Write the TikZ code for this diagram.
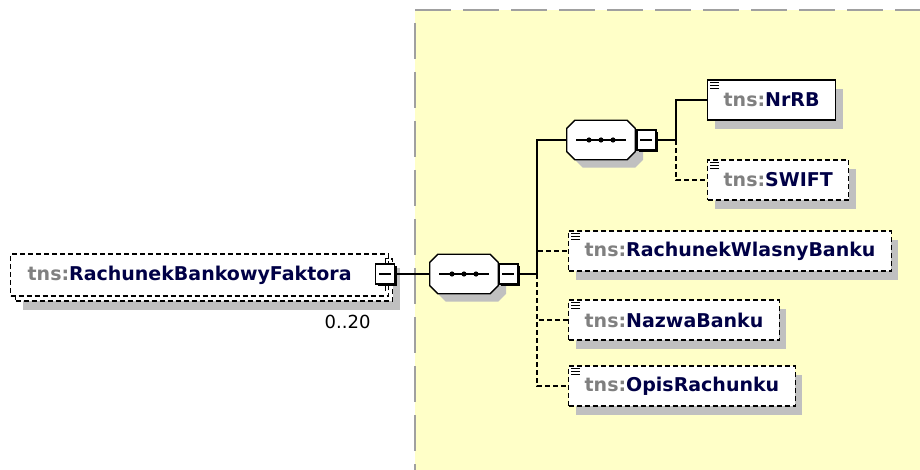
\documentclass[tikz,border=0pt]{standalone}
\usepackage{fontspec}
\setmainfont{DejaVu Sans}
\usepackage{tikz}
\usetikzlibrary{shadows, positioning}
\definecolor{myyellow}{RGB}{255,255,200}
\definecolor{myborder}{RGB}{160,160,160}
\definecolor{myshadow}{RGB}{192,192,192}
\definecolor{mytns}{RGB}{128,128,128}
\definecolor{mynavy}{RGB}{0,0,70}
\newcommand{\xname}[1]{{\color{mytns}tns:}#1}
% octagonal sequence outline (with its shadow) round a node
\newcommand{\seqoct}[1]{%
  \fill[myshadow] ([xshift=16pt,yshift=-8pt]#1.north west) -- ([yshift=-8pt]#1.north east)
    -- ([xshift=8pt,yshift=-16pt]#1.north east) -- ([xshift=8pt]#1.south east)
    -- ([yshift=-8pt]#1.south east) -- ([xshift=16pt,yshift=-8pt]#1.south west)
    -- ([xshift=8pt]#1.south west) -- ([xshift=8pt,yshift=-16pt]#1.north west) -- cycle;
  \filldraw[fill=white, line width=1.3pt] ([xshift=8pt]#1.north west) -- ([xshift=-8pt]#1.north east)
    -- ([yshift=-8pt]#1.north east) -- ([yshift=8pt]#1.south east)
    -- ([xshift=-8pt]#1.south east) -- ([xshift=8pt]#1.south west)
    -- ([yshift=8pt]#1.south west) -- ([yshift=-8pt]#1.north west) -- cycle;
}
\tikzset{
  elembase/.style={rectangle, draw=black, fill=white, line width=1.3pt,
    minimum height=40pt, inner xsep=16pt, inner ysep=0pt, anchor=west,
    font=\fontsize{19}{22}\selectfont\bfseries, text=mynavy},
  elem/.style={elembase,
    drop shadow={shadow xshift=7pt, shadow yshift=-9pt, fill=myshadow, opacity=1}},
  optelem/.style={elem, dash pattern=on 5pt off 3pt},
  seqbox/.style={rectangle, minimum width=68pt, minimum height=39pt, inner sep=0pt},
  minusbox/.style={rectangle, draw=black, fill=white, line width=1.3pt,
    minimum width=19pt, minimum height=20pt, inner sep=0pt,
    drop shadow={shadow xshift=2pt, shadow yshift=-2pt, fill=black, opacity=1}},
  conn/.style={line width=1.3pt, color=black},
  optconn/.style={conn, dash pattern=on 5pt off 3pt}
}

\begin{document}
\begin{tikzpicture}[x=1pt, y=-1pt]
  \useasboundingbox (0,0) rectangle (920,470);

  % Complex type area
  \fill[myyellow] (415,10) rectangle (920,470);
  \draw[myborder, line width=2.5pt, dash pattern=on 36pt off 12pt] (415,10) -- (920,10);
  \draw[myborder, line width=2.5pt, dash pattern=on 36pt off 13pt] (415,23) -- (415,470);

  % Root element (repeated, two stacked boxes)
  \node[optelem, minimum width=377pt, minimum height=42pt] (rootback) at (15,280) {};
  \node[elembase, dash pattern=on 5pt off 3pt, minimum height=42pt, inner xsep=17pt,
    text width=344pt, align=left] (root) at (10,275) {\xname{RachunekBankowyFaktora}};
  \node[minusbox] (rootmin) at (385,274) {};
  \draw[line width=1pt] (rootmin.north) -- ++(0,-5) -- ++(4,0);
  \draw[line width=1pt] (rootmin.south) -- ++(0,6);
  \node[font=\fontsize{18}{20}\selectfont, anchor=east] (occurs) at (374,322) {0..20};

  % Sequences
  \node[seqbox] (seqa) at (464,274) {};
  \seqoct{seqa}
  \node[minusbox, anchor=west] (seqamin) at (seqa.east) {};
  \node[seqbox] (seqb) at (601,140) {};
  \seqoct{seqb}
  \node[minusbox, anchor=west, xshift=1pt] (seqbmin) at (seqb.east) {};
  \foreach \s in {seqa,seqb} {
    \draw[conn] ([xshift=-25pt]\s.center) -- ([xshift=25pt]\s.center);
    \foreach \dx in {-12,0,12}
      \fill ([xshift=\dx pt]\s.center) circle (2.6);
  }
  \foreach \m in {rootmin,seqamin,seqbmin}
    \draw[conn] ([xshift=-6pt]\m.center) -- ([xshift=6pt]\m.center);

  % Child elements
  \node[elem] (nrrb) at (707,100) {\xname{NrRB}};
  \node[optelem] (swift) at (707,180) {\xname{SWIFT}};
  \node[optelem] (rwb) at (568,251) {\xname{RachunekWlasnyBanku}};
  \node[optelem] (nazwa) at (568,320) {\xname{NazwaBanku}};
  \node[optelem] (opis) at (568,386) {\xname{OpisRachunku}};
  \foreach \e in {nrrb,swift,rwb,nazwa,opis}
    \foreach \dy in {3,6,9}
      \draw[line width=1.1pt] ([xshift=3pt,yshift=-\dy pt]\e.north west) -- ++(9,0);

  % Connectors
  \coordinate (trunka) at (537,274);
  \coordinate (trunkb) at (676,140);
  \draw[conn] (rootmin.east) -- (seqa.west);
  \draw[conn] (seqamin.east) -- (trunka);
  \draw[conn] (trunka) |- (seqb.west);
  \draw[optconn] (trunka) |- (rwb.west);
  \draw[optconn] (trunka) |- (nazwa.west);
  \draw[optconn] (trunka) |- (opis.west);
  \draw[conn] (seqbmin.east) -- (trunkb);
  \draw[conn] (trunkb) |- (nrrb.west);
  \draw[optconn] (trunkb) |- (swift.west);
\end{tikzpicture}
\end{document}
